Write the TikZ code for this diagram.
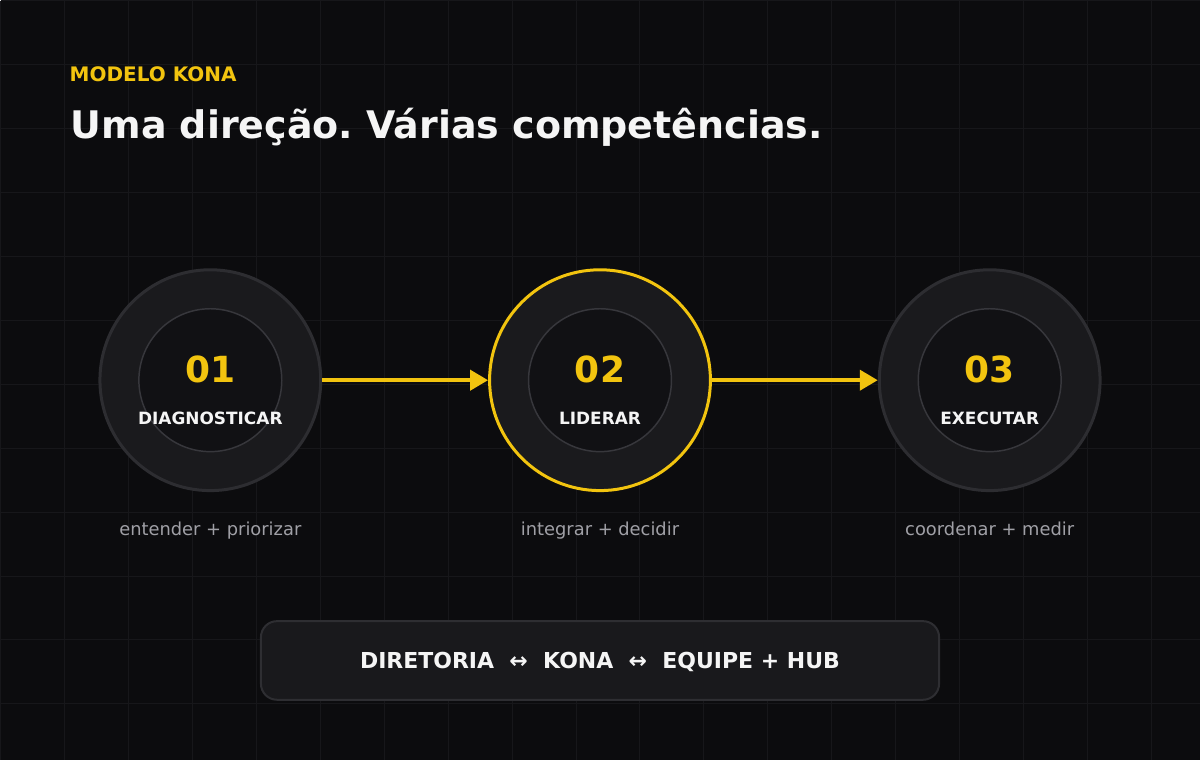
\documentclass[tikz,border=0pt]{standalone}
\usepackage{fontspec}
\setmainfont{DejaVu Sans}
\usepackage{xcolor}
\usetikzlibrary{arrows.meta}
\frenchspacing

\definecolor{bgdark}{HTML}{0C0C0E}
\definecolor{gridline}{HTML}{17171A}
\definecolor{kyellow}{HTML}{F2C40F}
\definecolor{ringfill}{HTML}{1A1A1D}
\definecolor{ringedge}{HTML}{2D2D31}
\definecolor{corefill}{HTML}{111114}
\definecolor{coreedge}{HTML}{37373C}
\definecolor{subgray}{HTML}{A0A0A6}
\definecolor{boxfill}{HTML}{19191C}
\definecolor{boxedge}{HTML}{2E2E32}
\definecolor{textwhite}{HTML}{F5F5F5}

\tikzset{
  ring/.style={circle,draw=ringedge,fill=ringfill,line width=2.25pt,minimum size=165.75pt,inner sep=0pt},
  core/.style={circle,draw=coreedge,fill=corefill,line width=1.1pt,minimum size=107.25pt,inner sep=0pt},
  stepnum/.style={anchor=base,inner sep=0pt,text=kyellow,font=\bfseries\fontsize{27pt}{27pt}\selectfont},
  steplabel/.style={anchor=base,inner sep=0pt,text=textwhite,font=\bfseries\fontsize{12.7pt}{12.7pt}\selectfont},
  stepnote/.style={anchor=base,inner sep=0pt,text=subgray,font=\fontsize{13.4pt}{13.4pt}\selectfont},
  flow/.style={draw=kyellow,line width=3pt,-{Triangle[length=13.5pt,width=15pt]}}
}

\begin{document}
\begin{tikzpicture}[x=0.75pt,y=-0.75pt]
  % background and grid
  \fill[bgdark] (0,0) rectangle (1200,760);
  \foreach \gx in {0,64,...,1200} \draw[gridline,line width=0.75pt] (\gx,0) -- (\gx,760);
  \foreach \gy in {0,64,...,760} \draw[gridline,line width=0.75pt] (0,\gy) -- (1200,\gy);

  % heading
  \node[anchor=base west,inner sep=0pt,text=kyellow,font=\bfseries\fontsize{15pt}{15pt}\selectfont] (kicker) at (69,81) {MODELO KONA};
  \node[anchor=base west,inner sep=0pt,text=textwhite,font=\bfseries\fontsize{28.5pt}{28.5pt}\selectfont] (title) at (70,138) {Uma direção. Várias competências.};

  % the three steps
  \node[ring] (s1) at (210,380) {};
  \node[core] (c1) at (210,380) {};
  \node[stepnum] (n1) at (210,382) {01};
  \node[steplabel] (l1) at (210,424) {DIAGNOSTICAR};
  \node[stepnote] (d1) at (210,535) {entender + priorizar};

  \node[ring,draw=kyellow] (s2) at (600,380) {};
  \node[core] (c2) at (600,380) {};
  \node[stepnum] (n2) at (600,382) {02};
  \node[steplabel] (l2) at (600,424) {LIDERAR};
  \node[stepnote] (d2) at (600,535) {integrar + decidir};

  \node[ring] (s3) at (990,380) {};
  \node[core] (c3) at (990,380) {};
  \node[stepnum] (n3) at (990,382) {03};
  \node[steplabel] (l3) at (990,424) {EXECUTAR};
  \node[stepnote] (d3) at (990,535) {coordenar + medir};

  \draw[flow] (s1) -- (s2);
  \draw[flow] (s2) -- (s3);

  % bottom bar
  \node[draw=boxedge,fill=boxfill,line width=1.5pt,rounded corners=12pt,minimum width=509pt,minimum height=59pt,
        text=textwhite,text height=12pt,text depth=0pt,font=\bfseries\fontsize{16.5pt}{16.5pt}\selectfont] (bar) at (600,660.5)
        {DIRETORIA\ \ ↔\ \ KONA\ \ ↔\ \ EQUIPE + HUB};
\end{tikzpicture}
\end{document}
